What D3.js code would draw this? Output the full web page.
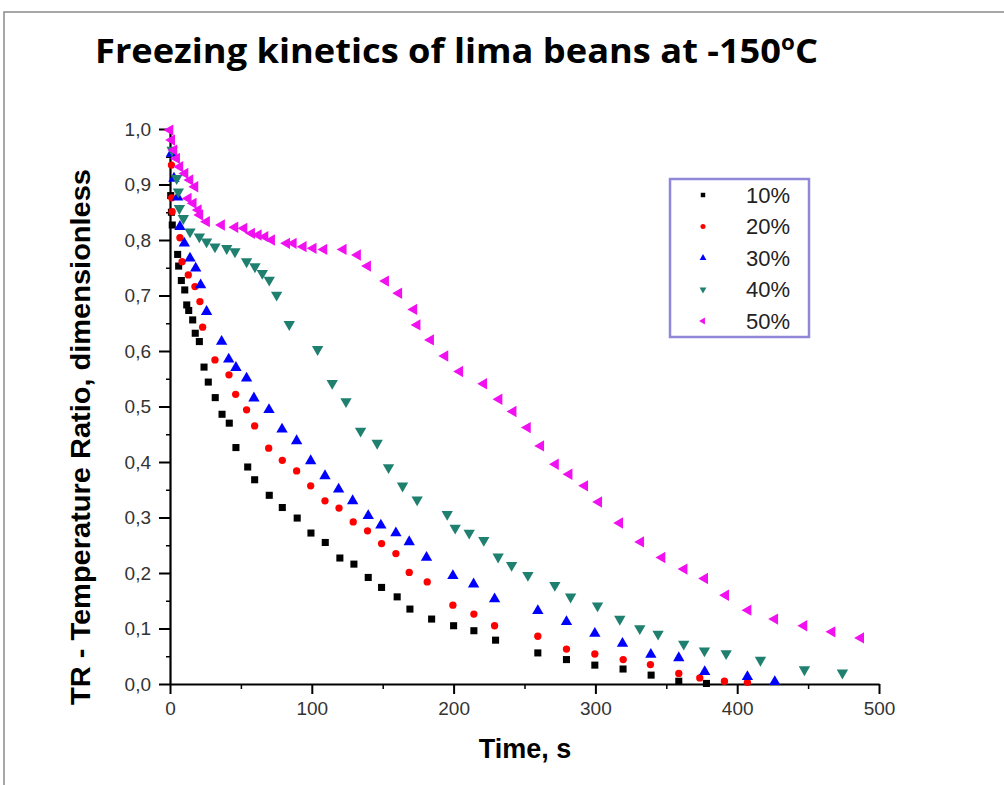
<!DOCTYPE html>
<html>
<head>
<meta charset="utf-8">
<script src="https://cdn.jsdelivr.net/npm/d3@7"></script>
<style>
  body { margin: 0; background: #fff; }
  #chart { width: 1004px; height: 785px; }
</style>
</head>
<body>
<div id="chart"></div>
<script>
// series: time (s) and temperature ratio
const t10 = [0.5, 1, 1.6, 5.4, 6.1, 8.0, 10.4, 11.8, 13.2, 16.0, 17.8, 20.7, 24.0, 27.0, 31.9, 36.7, 41.8, 46.5, 54.8, 59.7, 70.0, 79.2, 89.7, 99.4, 109.5, 119.8, 129.7, 139.8, 149.2, 160.2, 169.2, 184.5, 200.0, 214.3, 229.6, 259.4, 279.6, 299.6, 319.5, 339.3, 358.8, 378.3];
const v10 = [0.88, 0.85, 0.827, 0.774, 0.753, 0.727, 0.710, 0.683, 0.673, 0.656, 0.632, 0.617, 0.571, 0.544, 0.516, 0.486, 0.470, 0.426, 0.391, 0.368, 0.340, 0.318, 0.299, 0.272, 0.255, 0.227, 0.216, 0.192, 0.174, 0.157, 0.135, 0.117, 0.105, 0.096, 0.079, 0.056, 0.044, 0.034, 0.027, 0.016, 0.005, 0.001];

const t20 = [1, 1.2, 1.5, 7.0, 8.5, 12.9, 17.6, 21.1, 23.0, 31.7, 41.6, 46.3, 54.0, 59.7, 69.6, 79.2, 89.3, 99.2, 109.3, 119.2, 129.2, 139.3, 149.2, 159.3, 168.7, 181.4, 199.5, 214.3, 228.9, 259.4, 279.6, 299.6, 319.6, 338.8, 358.8, 373.6, 391, 407.2];
const v20 = [0.935, 0.876, 0.851, 0.804, 0.761, 0.737, 0.716, 0.689, 0.643, 0.584, 0.557, 0.522, 0.494, 0.465, 0.425, 0.403, 0.384, 0.357, 0.330, 0.317, 0.292, 0.276, 0.253, 0.235, 0.201, 0.184, 0.142, 0.126, 0.105, 0.086, 0.063, 0.054, 0.044, 0.035, 0.019, 0.011, 0.005, 0.003];

const t30 = [1.0, 2.8, 5.4, 7.0, 10.1, 14.1, 18.1, 21.6, 25.8, 36.4, 41.4, 46.5, 54.0, 59.2, 69.8, 79.0, 89.3, 99.2, 109.3, 118.9, 128.8, 139.8, 148.7, 159.3, 168.7, 180.9, 199.5, 214.1, 228.9, 259.4, 279.6, 299.6, 319.1, 339.1, 358.8, 377.1, 407.2, 426.5];
const v30 = [0.956, 0.911, 0.877, 0.824, 0.794, 0.767, 0.749, 0.719, 0.671, 0.617, 0.585, 0.570, 0.551, 0.515, 0.494, 0.459, 0.438, 0.402, 0.375, 0.351, 0.330, 0.303, 0.286, 0.272, 0.256, 0.228, 0.195, 0.180, 0.153, 0.132, 0.112, 0.091, 0.073, 0.053, 0.047, 0.022, 0.013, 0.004];

const t40 = [1.5, 4.7, 5.9, 6.6, 9.4, 14.1, 20.7, 25.8, 31.7, 40.0, 45.8, 54.0, 59.9, 65.1, 70.0, 75.2, 84.1, 104.1, 114.4, 124.1, 134.4, 146.1, 154.1, 164.0, 174.3, 195.5, 201.1, 211.0, 221.3, 231.4, 240.9, 252.4, 271.4, 282.5, 301.5, 317.2, 331.3, 344.2, 362.3, 376.9, 392.2, 416.4, 447.4, 474.2];
const v40 = [0.962, 0.911, 0.887, 0.857, 0.839, 0.815, 0.806, 0.797, 0.788, 0.785, 0.779, 0.761, 0.752, 0.740, 0.728, 0.701, 0.648, 0.603, 0.542, 0.509, 0.456, 0.434, 0.390, 0.357, 0.332, 0.306, 0.281, 0.272, 0.259, 0.229, 0.214, 0.196, 0.178, 0.157, 0.141, 0.117, 0.100, 0.090, 0.072, 0.060, 0.055, 0.043, 0.026, 0.020];

const t50 = [0, 1.2, 2.8, 4.7, 7.0, 10.6, 14.1, 17.6, 12.9, 16.4, 20.0, 21.1, 25.8, 36.4, 45.8, 52.2, 57.6, 62.3, 67.0, 71.7, 82.3, 87.0, 94.0, 101.0, 108.6, 122.2, 132.3, 139.4, 152.1, 161.4, 172.0, 174.3, 183.8, 193.9, 204.4, 221.3, 232.1, 242.0, 252.1, 261.5, 271.9, 281.5, 292.5, 302.4, 317.2, 332.0, 347.0, 362.6, 377.1, 391.9, 407.7, 426.5, 447.1, 466.9, 487.1];
const v50 = [0.998, 0.98, 0.962, 0.947, 0.932, 0.92, 0.908, 0.896, 0.875, 0.866, 0.854, 0.845, 0.833, 0.827, 0.823, 0.821, 0.812, 0.809, 0.806, 0.800, 0.794, 0.794, 0.788, 0.785, 0.783, 0.783, 0.773, 0.753, 0.726, 0.704, 0.675, 0.647, 0.620, 0.591, 0.563, 0.541, 0.513, 0.491, 0.462, 0.429, 0.396, 0.378, 0.357, 0.328, 0.290, 0.256, 0.228, 0.207, 0.190, 0.160, 0.133, 0.117, 0.105, 0.094, 0.083];

const seriesNames = ["10%", "20%", "30%", "40%", "50%"];
const xTicks = [0, 100, 200, 300, 400, 500];
const yTicks = [0, 0.1, 0.2, 0.3, 0.4, 0.5, 0.6, 0.7, 0.8, 0.9, 1.0];

const series = [
    { name: seriesNames[0], t: t10, v: v10, color: "#000000", shape: d3.symbolSquare, size: 50, rot: 0 },
    { name: seriesNames[1], t: t20, v: v20, color: "#ff0000", shape: d3.symbolCircle, size: 42, rot: 0 },
    { name: seriesNames[2], t: t30, v: v30, color: "#0000ff", shape: d3.symbolTriangle, size: 56, rot: 0 },
    { name: seriesNames[3], t: t40, v: v40, color: "#1f8070", shape: d3.symbolTriangle, size: 56, rot: 180 },
    { name: seriesNames[4], t: t50, v: v50, color: "#f010f0", shape: d3.symbolTriangle, size: 56, rot: -90 }
];

const W = 1004, H = 785;
const margin = { top: 129, right: 125, bottom: 101, left: 170 },
    width = W - margin.left - margin.right,
    height = H - margin.top - margin.bottom;

const root = d3.select("#chart").append("svg")
    .attr("width", W)
    .attr("height", H);

// thin frame round the picture
root.append("path")
    .attr("d", `M4,${H} V12 H${W}`)
    .attr("fill", "none")
    .attr("stroke", "#8a8a8a")
    .attr("stroke-width", 1.5);

// title
const title = root.append("text")
    .attr("x", 95)
    .attr("y", 63)
    .attr("textLength", 723)
    .attr("lengthAdjust", "spacingAndGlyphs")
    .style("font-family", "'Open Sans', Lato, sans-serif")
    .style("font-weight", "bold")
    .style("font-size", "34px")
    .attr("fill", "#000");
title.append("tspan").text("Freezing kinetics of lima beans at -150");
title.append("tspan").attr("dy", -13).style("font-size", "21px").text("o");
title.append("tspan").attr("dy", 13).text("C");

const svg = root.append("g")
    .attr("transform", `translate(${margin.left},${margin.top})`);

const x = d3.scaleLinear().domain([0, 500]).range([0, width]);
const y = d3.scaleLinear().domain([0, 1]).range([height, 0]);

const fmt = d => d3.format(".1f")(d).replace(".", ",");

// minor ticks
svg.append("g")
    .attr("transform", `translate(0,${height})`)
    .call(d3.axisBottom(x).tickValues([50, 150, 250, 350, 450]).tickSize(5).tickFormat(""))
    .call(g => g.select(".domain").remove())
    .selectAll("line").attr("stroke-width", 1.5);
svg.append("g")
    .call(d3.axisLeft(y).tickValues([0.05, 0.15, 0.25, 0.35, 0.45, 0.55, 0.65, 0.75, 0.85, 0.95]).tickSize(4).tickFormat(""))
    .call(g => g.select(".domain").remove())
    .selectAll("line").attr("stroke-width", 1.5);

// x axis
const xAxis = svg.append("g")
    .attr("transform", `translate(0,${height})`)
    .call(d3.axisBottom(x).tickValues(xTicks).tickSize(10).tickSizeOuter(0).tickPadding(8));
xAxis.select(".domain").attr("stroke-width", 2.2);
xAxis.selectAll(".tick line").attr("stroke-width", 2);
xAxis.selectAll("text")
    .style("font-size", "19px")
    .style("font-family", "'Liberation Sans', Arial, sans-serif")
    .attr("fill", "#333");

// y axis
const yAxis = svg.append("g")
    .call(d3.axisLeft(y).tickValues(yTicks).tickSize(11).tickSizeOuter(0).tickPadding(8).tickFormat(fmt));
yAxis.select(".domain").attr("stroke-width", 2.2);
yAxis.selectAll(".tick line").attr("stroke-width", 2);
yAxis.selectAll("text")
    .style("font-size", "19px")
    .style("font-family", "'Liberation Sans', Arial, sans-serif")
    .attr("fill", "#333");

// points
series.forEach(s => {
    const pts = s.t.map((t, i) => ({ t: t, v: s.v[i] }));
    svg.append("g").selectAll("path")
        .data(pts)
        .enter().append("path")
        .attr("d", d3.symbol().type(s.shape).size(s.size))
        .attr("transform", d => `translate(${x(d.t)},${y(d.v)}) rotate(${s.rot})`)
        .attr("fill", s.color);
});

// legend
const legend = root.append("g").attr("transform", "translate(670,179)");
legend.append("rect")
    .attr("width", 139)
    .attr("height", 158)
    .attr("fill", "#fff")
    .attr("stroke", "#9087d8")
    .attr("stroke-width", 2.5);
series.forEach((s, i) => {
    const ly = 16 + i * 31.5;
    legend.append("path")
        .attr("d", d3.symbol().type(s.shape).size(20))
        .attr("transform", `translate(33,${ly}) rotate(${s.rot})`)
        .attr("fill", s.color);
    legend.append("text")
        .attr("x", 120)
        .attr("y", ly)
        .attr("dy", "0.36em")
        .attr("text-anchor", "end")
        .style("font-size", "22px")
        .style("font-family", "'Liberation Sans', Arial, sans-serif")
        .attr("fill", "#222")
        .text(s.name);
});

// x axis label
root.append("text")
    .attr("x", 525)
    .attr("y", 758)
    .attr("text-anchor", "middle")
    .style("font-family", "'Liberation Sans', Arial, sans-serif")
    .style("font-weight", "bold")
    .style("font-size", "27px")
    .text("Time, s");

// y axis label
root.append("text")
    .attr("transform", "translate(90,437) rotate(-90)")
    .attr("text-anchor", "middle")
    .attr("textLength", 536)
    .attr("lengthAdjust", "spacingAndGlyphs")
    .style("font-family", "'Liberation Sans', Arial, sans-serif")
    .style("font-weight", "bold")
    .style("font-size", "28px")
    .text("TR - Temperature Ratio, dimensionless");
</script>
</body>
</html>
